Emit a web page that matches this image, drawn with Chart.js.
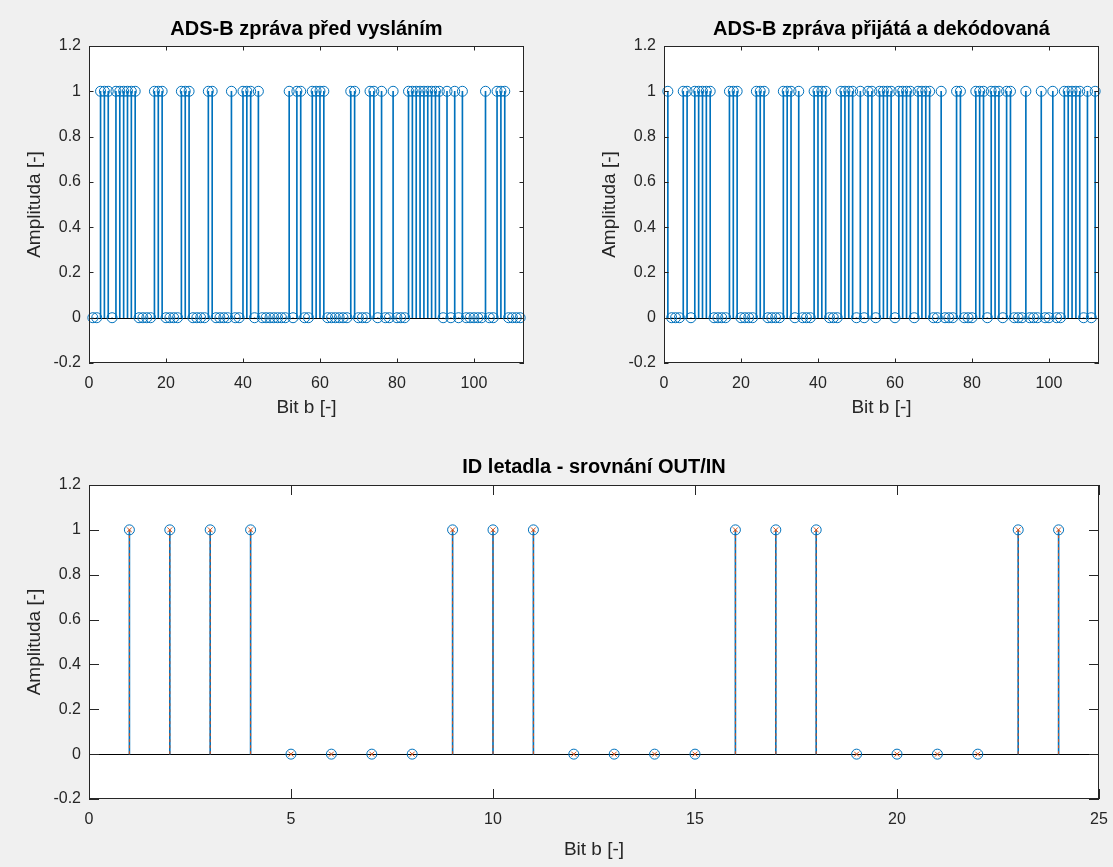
<!DOCTYPE html>
<html>
<head>
<meta charset="utf-8">
<title>ADS-B</title>
<script src="https://cdn.jsdelivr.net/npm/chart.js@4.4.0/dist/chart.umd.min.js"></script>
<style>
  body { margin: 0; background: #f0f0f0; width: 1113px; height: 867px; overflow: hidden; position: relative; }
  canvas { position: absolute; }
</style>
</head>
<body>
<canvas id="out" width="560" height="432" style="left:0;top:0"></canvas>
<canvas id="in" width="538" height="432" style="left:575px;top:0"></canvas>
<canvas id="id" width="1113" height="427" style="left:0;top:440px"></canvas>
<script>
"use strict";

// bity 1..112
const BITS_OUT = [
  0, 0, 1, 1, 1, 0, 1, 1,
  1, 1, 1, 1, 0, 0, 0, 0,
  1, 1, 1, 0, 0, 0, 0, 1,
  1, 1, 0, 0, 0, 0, 1, 1,
  0, 0, 0, 0, 1, 0, 0, 1,
  1, 1, 0, 1, 0, 0, 0, 0,
  0, 0, 0, 1, 0, 1, 1, 0,
  0, 1, 1, 1, 1, 0, 0, 0,
  0, 0, 0, 1, 1, 0, 0, 0,
  1, 1, 0, 1, 0, 0, 1, 0,
  0, 0, 1, 1, 1, 1, 1, 1,
  1, 1, 1, 0, 1, 0, 1, 0,
  1, 0, 0, 0, 0, 0, 1, 0,
  0, 1, 1, 1, 0, 0, 0, 0
];

const BITS_IN = [
  1, 0, 0, 0, 1, 1, 0, 1,
  1, 1, 1, 1, 0, 0, 0, 0,
  1, 1, 1, 0, 0, 0, 0, 1,
  1, 1, 0, 0, 0, 0, 1, 1,
  1, 0, 1, 0, 0, 0, 1, 1,
  1, 1, 0, 0, 0, 1, 1, 1,
  1, 0, 1, 0, 1, 1, 0, 1,
  1, 1, 1, 0, 1, 1, 1, 1,
  0, 1, 1, 1, 1, 0, 0, 1,
  0, 0, 0, 1, 1, 0, 0, 0,
  1, 1, 1, 0, 1, 1, 1, 0,
  1, 1, 0, 0, 0, 1, 0, 0,
  0, 1, 0, 0, 1, 0, 0, 1,
  1, 1, 1, 1, 0, 1, 0, 1
];

const ID_OUT = [1, 1, 1, 1, 0, 0, 0, 0, 1, 1, 1, 0, 0, 0, 0, 1, 1, 1, 0, 0, 0, 0, 1, 1];
const ID_IN  = [1, 1, 1, 1, 0, 0, 0, 0, 1, 1, 1, 0, 0, 0, 0, 1, 1, 1, 0, 0, 0, 0, 1, 1];

const Y_TICKS = [-0.2, 0, 0.2, 0.4, 0.6, 0.8, 1, 1.2];
const X_TICKS_MSG = [0, 20, 40, 60, 80, 100];
const X_TICKS_ID = [0, 5, 10, 15, 20, 25];

const BLUE = "#0072BD";
const ORANGE = "#D95319";
const AXIS = "#262626";
const FONT = "'Liberation Sans', Arial, Helvetica, sans-serif";

function points(values) {
  return values.map((v, i) => ({ x: i + 1, y: v }));
}

// svislé úsečky 0 -> hodnota, oddělené mezerou (null)
function stemSegments(values) {
  const out = [];
  values.forEach((v, i) => {
    out.push({ x: i + 1, y: 0 }, { x: i + 1, y: v }, { x: i + 1, y: null });
  });
  return out;
}

function stemBars(values) {
  return {
    type: "bar",
    data: points(values),
    backgroundColor: BLUE,
    barThickness: 1,
    grouped: false,
    order: 5
  };
}

function markers(values, style, color, radius) {
  return {
    type: "line",
    data: points(values),
    showLine: false,
    pointStyle: style,
    pointRadius: radius,
    pointHoverRadius: radius,
    pointBorderColor: color,
    pointBackgroundColor: "rgba(0,0,0,0)",
    pointBorderWidth: 1,
    clip: false,
    order: 1
  };
}

// bílá plocha, nulová osa, rámeček a ticky dovnitř jako v MATLABu
const matlabAxes = {
  id: "matlabAxes",
  beforeDraw(chart) {
    const { ctx, chartArea: a } = chart;
    ctx.save();
    ctx.fillStyle = "#ffffff";
    ctx.fillRect(a.left, a.top, a.right - a.left, a.bottom - a.top);
    ctx.restore();
  },
  beforeDatasetsDraw(chart) {
    const { ctx, chartArea: a, scales } = chart;
    const y0 = Math.round(scales.y.getPixelForValue(0)) + 0.5;
    ctx.save();
    ctx.strokeStyle = "#000000";
    ctx.lineWidth = 1;
    ctx.beginPath();
    ctx.moveTo(a.left, y0);
    ctx.lineTo(a.right, y0);
    ctx.stroke();
    ctx.restore();
  },
  afterDatasetsDraw(chart, args, opts) {
    const { ctx, chartArea: a, scales } = chart;
    const len = opts.tickLen || 5;
    ctx.save();
    ctx.strokeStyle = AXIS;
    ctx.lineWidth = 1;
    ctx.beginPath();
    scales.x.ticks.forEach(t => {
      const px = Math.round(scales.x.getPixelForValue(t.value)) + 0.5;
      ctx.moveTo(px, a.bottom);
      ctx.lineTo(px, a.bottom - len);
      ctx.moveTo(px, a.top);
      ctx.lineTo(px, a.top + len);
    });
    scales.y.ticks.forEach(t => {
      const py = Math.round(scales.y.getPixelForValue(t.value)) + 0.5;
      ctx.moveTo(a.left, py);
      ctx.lineTo(a.left + len, py);
      ctx.moveTo(a.right, py);
      ctx.lineTo(a.right - len, py);
    });
    ctx.stroke();
    ctx.strokeRect(a.left + 0.5, a.top + 0.5, a.right - a.left - 1, a.bottom - a.top - 1);
    ctx.restore();
  }
};

function makeChart(id, cfg) {
  return new Chart(document.getElementById(id), {
    type: "bar",
    data: { datasets: cfg.datasets },
    options: {
      responsive: false,
      animation: false,
      events: [],
      layout: { padding: { left: 0, top: 0, right: cfg.padRight, bottom: 0 } },
      plugins: {
        legend: { display: false },
        tooltip: { enabled: false },
        title: {
          display: true,
          text: cfg.title,
          fullSize: false,
          color: "#000000",
          font: { family: FONT, size: 20, weight: "bold" },
          padding: cfg.titlePad
        },
        matlabAxes: { tickLen: cfg.tickLen }
      },
      scales: {
        x: {
          type: "linear",
          min: 0,
          max: cfg.xMax,
          offset: false,
          // tickLength only shifts the labels, the marks are drawn by the plugin
          grid: { display: false, drawTicks: true, tickLength: 8 },
          border: { display: false },
          afterBuildTicks: s => { s.ticks = cfg.xTicks.map(v => ({ value: v })); },
          afterFit: s => { s.height = cfg.xHeight; },
          ticks: {
            color: AXIS,
            font: { family: FONT, size: 16 },
            padding: 3,
            maxRotation: 0,
            autoSkip: false,
            callback: v => String(v)
          },
          title: {
            display: true,
            text: "Bit b [-]",
            color: AXIS,
            font: { family: FONT, size: 19 },
            padding: { top: 0, bottom: cfg.xTitlePad }
          }
        },
        y: {
          type: "linear",
          min: -0.2,
          max: 1.2,
          grid: { display: false, drawTicks: false },
          border: { display: false },
          afterBuildTicks: s => { s.ticks = Y_TICKS.map(v => ({ value: v })); },
          afterFit: s => { s.width = 89; },
          ticks: {
            color: AXIS,
            font: { family: FONT, size: 16 },
            padding: 8,
            autoSkip: false,
            callback: v => String(+v.toFixed(1))
          },
          title: {
            display: true,
            text: "Amplituda [-]",
            color: AXIS,
            font: { family: FONT, size: 19 },
            padding: { top: 23, bottom: 0 }
          }
        }
      }
    },
    plugins: [matlabAxes]
  });
}

makeChart("out", {
  title: "ADS-B zpráva před vysláním",
  datasets: [stemBars(BITS_OUT), markers(BITS_OUT, "circle", BLUE, 5)],
  xMax: 113,
  xTicks: X_TICKS_MSG,
  padRight: 36,
  titlePad: { top: 17, bottom: 5 },
  xHeight: 69,
  xTitlePad: 12.6,
  tickLen: 4.5
});

makeChart("in", {
  title: "ADS-B zpráva přijátá a dekódovaná",
  datasets: [stemBars(BITS_IN), markers(BITS_IN, "circle", BLUE, 5)],
  xMax: 113,
  xTicks: X_TICKS_MSG,
  padRight: 14,
  titlePad: { top: 17, bottom: 5 },
  xHeight: 69,
  xTitlePad: 12.6,
  tickLen: 4.5
});

makeChart("id", {
  title: "ID letadla - srovnání OUT/IN",
  datasets: [
    stemBars(ID_OUT),
    {
      type: "line",
      data: stemSegments(ID_IN),
      borderColor: ORANGE,
      borderWidth: 1,
      borderDash: [3, 3],
      pointRadius: 0,
      spanGaps: false,
      order: 3
    },
    markers(ID_OUT, "circle", BLUE, 5),
    markers(ID_IN, "crossRot", ORANGE, 3.5)
  ],
  xMax: 25,
  xTicks: X_TICKS_ID,
  padRight: 14,
  titlePad: { top: 15, bottom: 6 },
  xHeight: 68,
  xTitlePad: 5.6,
  tickLen: 10
});
</script>
</body>
</html>
